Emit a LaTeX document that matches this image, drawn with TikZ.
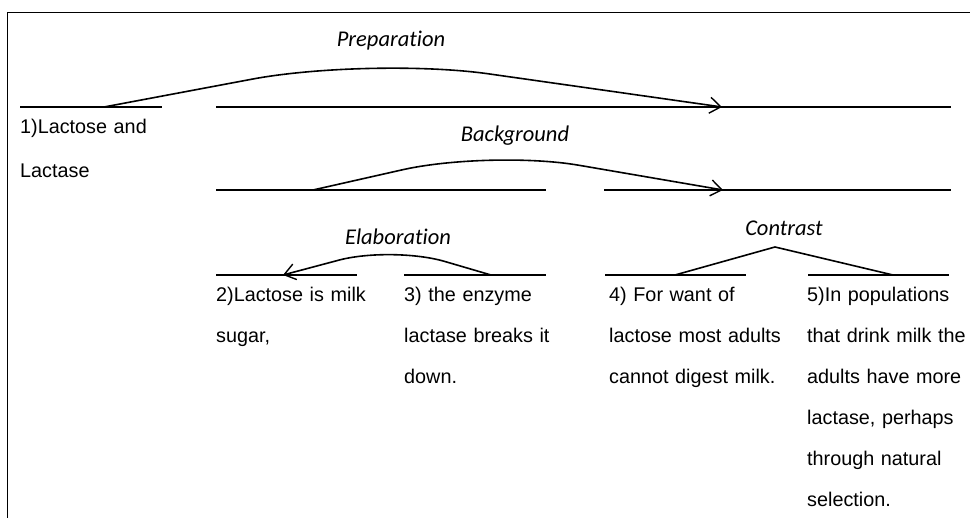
\documentclass[tikz,border=0pt]{standalone}
\usepackage{fontspec}
\setmainfont{Liberation Sans}
\newfontfamily\relfont[Ligatures=NoCommon]{Carlito}
\usetikzlibrary{arrows.meta}
\tikzset{
  span/.style={line width=1.3pt},
  rel/.style={line width=1.6pt, rounded corners=#1},
  reltip/.style={-{Straight Barb[length=11pt,width=16pt,line width=1.4pt]}},
  edu/.style={anchor=base west, inner sep=0pt, text width=#1, align=left, font=\fontsize{19.8}{41}\selectfont},
  edu/.default=172pt,
  lbl/.style={anchor=base, inner sep=0pt, font=\relfont\itshape\fontsize{22.5}{27}\selectfont},
}

\begin{document}
\begin{tikzpicture}[x=1pt, y=-1pt]
\useasboundingbox (0,0) rectangle (970,518);
% Frame
\draw[line width=1.4pt] (970,12.5) -- (7.5,12.5) -- (7.5,518);

% Spans of each level
\coordinate (l1a) at (20,107);  \coordinate (l1b) at (162,107);
\coordinate (r1a) at (216,107); \coordinate (r1b) at (951,107);
\coordinate (l2a) at (216,190); \coordinate (l2b) at (546,190);
\coordinate (r2a) at (604,190); \coordinate (r2b) at (951,190);
\coordinate (e1a) at (216,275); \coordinate (e1b) at (357,275);
\coordinate (e2a) at (404,275); \coordinate (e2b) at (546,275);
\coordinate (c1a) at (605,275); \coordinate (c1b) at (746,275);
\coordinate (c2a) at (808,275); \coordinate (c2b) at (949,275);
\foreach \s in {l1,r1,l2,r2,e1,e2,c1,c2}
  \draw[span] (\s a) -- (\s b);

% Relations
\coordinate (prepS) at (104,107); \coordinate (prepTop) at (370,57);  \coordinate (prepT) at (722,107);
\coordinate (backS) at (313,190); \coordinate (backTop) at (490,150); \coordinate (backT) at (723,190);
\coordinate (elabS) at (491,275); \coordinate (elabTop) at (392,246); \coordinate (elabT) at (283,275);
\coordinate (contL) at (675,275); \coordinate (contTop) at (775,247); \coordinate (contR) at (893,275);
\draw[rel=120pt, reltip] (prepS) -- (prepTop) -- (prepT);
\draw[rel=90pt, reltip] (backS) -- (backTop) -- (backT);
\draw[rel=55pt, reltip] (elabS) -- (elabTop) -- (elabT);
\draw[line width=1.6pt] (contL) -- (contTop) -- (contR);

% Relation names
\node[lbl] (prep) at (391,47) {Preparation};
\node[lbl] (back) at (515,142) {Background};
\node[lbl] (elab) at (398,245) {Elaboration};
\node[lbl] (cont) at (784,236) {Contrast};

% Text units
\node[edu] (u1) at (20,134) {1)Lactose and\\[3pt]Lactase};
\node[edu] (u2) at (216,302) {2)Lactose is milk\\sugar,};
\node[edu] (u3) at (404,302) {3) the enzyme\\lactase breaks it\\down.};
\node[edu] (u4) at (609,302) {4) For want of\\lactose most adults\\cannot digest milk.};
\node[edu=163pt] (u5) at (807,302) {5)In populations\\that drink milk the\\adults have more\\lactase, perhaps\\through natural\\selection.};
\end{tikzpicture}
\end{document}
